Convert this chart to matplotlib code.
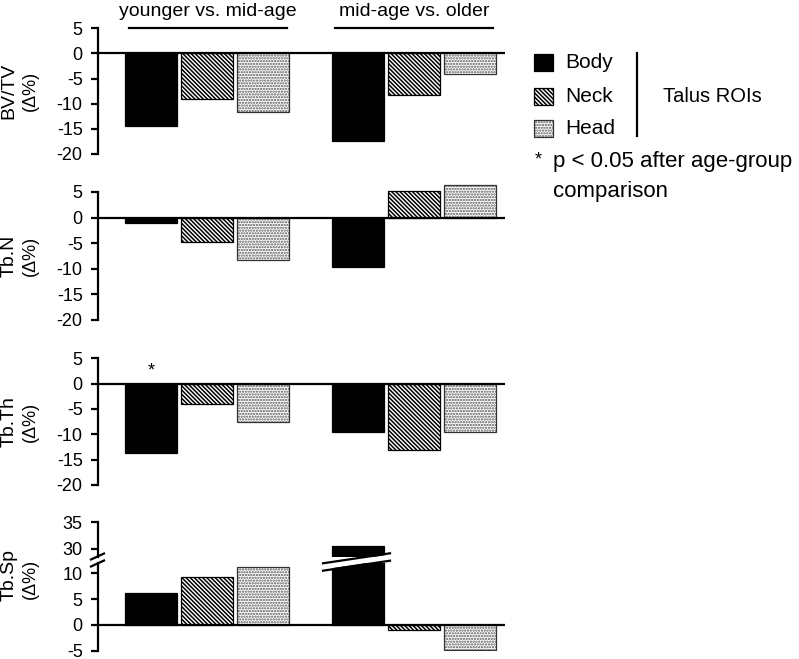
import matplotlib
matplotlib.use("Agg")
import matplotlib.pyplot as plt
from matplotlib.patches import Rectangle, Polygon
import numpy as np

plt.rcParams["font.family"] = ["Liberation Sans", "DejaVu Sans"]
plt.rcParams["hatch.linewidth"] = 1.1

# values (percent change)
rois = ["Body", "Neck", "Head"]
groups = ["younger vs. mid-age", "mid-age vs. older"]

bvtv_young_mid = [-14.4, -9.0, -11.7]
bvtv_mid_old = [-17.5, -8.2, -4.0]
tbn_young_mid = [-1.0, -4.8, -8.3]
tbn_mid_old = [-9.7, 5.2, 6.3]
tbth_young_mid = [-13.7, -4.1, -7.6]
tbth_mid_old = [-9.6, -13.0, -9.5]
tbsp_young_mid = [6.2, 9.3, 11.2]
tbsp_mid_old = [30.6, -1.0, -4.9]

W, H = 799, 659
fig = plt.figure(figsize=(W / 100, H / 100), dpi=100)

fc = ["black", "white", "white"]
ec = ["black", "black", "#333333"]
hc = ["black", "black", "#555555"]   # hatch colour
hatches = [None, "\\" * 8, "." * 6]

# bar positions: 3 bars per group, gap between groups
pos = np.concatenate([np.arange(3), np.arange(3) + 3.7])
width = 0.93
XL = (-0.946, 6.32)


def add_ax(top, bottom):
    return fig.add_axes([98 / W, 1 - bottom / H, (505 - 98) / W, (bottom - top) / H])


def style(ax, ylim, ticks):
    ax.set_xlim(*XL)
    ax.set_ylim(*ylim)
    for s in ["top", "right", "bottom"]:
        ax.spines[s].set_visible(False)
    ax.spines["left"].set_linewidth(1.6)
    ax.set_xticks([])
    ax.set_yticks(ticks)
    ax.set_yticklabels([str(t) for t in ticks])
    ax.tick_params(axis="y", length=5, width=1.6, pad=6, labelsize=13)
    ax.patch.set_alpha(0)


def draw_bars(ax, a, b, clip=False):
    vals = list(a) + list(b)
    for i, v in enumerate(vals):
        k = i % 3
        # fill + hatch, then outline on top
        ax.bar(pos[i], v, width=width, color=fc[k], edgecolor=hc[k],
               hatch=hatches[k], linewidth=0, zorder=2, clip_on=clip)
        ax.bar(pos[i], v, width=width, fill=False, edgecolor=ec[k],
               linewidth=0.9, zorder=2, clip_on=clip)
    ax.axhline(0, color="black", lw=1.6, zorder=3)


panels = [
    ("BV/TV", bvtv_young_mid, bvtv_mid_old, 28.3, 154),
    ("Tb.N", tbn_young_mid, tbn_mid_old, 192, 320),
    ("Tb.Th", tbth_young_mid, tbth_mid_old, 358.3, 485),
]
for name, a, b, top, bot in panels:
    ax = add_ax(top, bot)
    draw_bars(ax, a, b)
    style(ax, (-20, 5), [5, 0, -5, -10, -15, -20])
    fig.text(9 / W, 1 - (top + bot) / 2 / H, name, rotation=90,
             ha="center", va="center", fontsize=14)
    fig.text(30 / W, 1 - (top + bot) / 2 / H, "(\u0394%)", rotation=90,
             ha="center", va="center", fontsize=13)
    if name == "Tb.Th":
        ax.text(pos[0], 0.8, "*", ha="center", va="bottom", fontsize=13)

# Tb.Sp with broken axis
ax_hi = add_ax(522.3, 557)
draw_bars(ax_hi, tbsp_young_mid, tbsp_mid_old, clip=True)
style(ax_hi, (28.5, 35), [30, 35])
ax_lo = add_ax(563, 650.7)
draw_bars(ax_lo, tbsp_young_mid, tbsp_mid_old, clip=True)
style(ax_lo, (-5, 12), [10, 5, 0, -5])
fig.text(9 / W, 1 - 575 / H, "Tb.Sp", rotation=90, ha="center", va="center", fontsize=14)
fig.text(30 / W, 1 - 579 / H, "(\u0394%)", rotation=90, ha="center", va="center", fontsize=13)

# overlay in pixel coordinates for annotations
ov = fig.add_axes([0, 0, 1, 1])
ov.set_xlim(0, W)
ov.set_ylim(H, 0)
ov.axis("off")
ov.patch.set_alpha(0)

# group headers
for g, (x0, x1) in zip(groups, [(129, 287), (335, 493)]):
    ov.plot([x0, x1], [28, 28], color="black", lw=1.6)
    ov.text((x0 + x1) / 2, 11, g, ha="center", va="center", fontsize=14)

# break marks on the axis
for y in [556.5, 563.5]:
    ov.plot([91, 104], [y + 3, y - 3], color="black", lw=1.6)
# break slash across the tall bar
ov.add_patch(Polygon([[323, 564.5], [390, 554.5], [390, 559.5], [323, 569.5]],
                     closed=True, facecolor="white", edgecolor="none", zorder=5))
ov.plot([323, 390], [563.3, 553.3], color="black", lw=1.6, zorder=6)
ov.plot([323, 390], [570.7, 560.7], color="black", lw=1.6, zorder=6)

# legend
for k, (name, yc) in enumerate(zip(rois, [62, 96, 128])):
    ov.add_patch(Rectangle((534, yc - 8.5), 19, 17, facecolor=fc[k], edgecolor=hc[k],
                           hatch=hatches[k], linewidth=0))
    ov.add_patch(Rectangle((534, yc - 8.5), 19, 17, fill=False, edgecolor=ec[k],
                           linewidth=0.9))
    ov.text(565, yc, name, ha="left", va="center", fontsize=15)
ov.plot([637, 637], [53, 136], color="black", lw=1.6)
ov.text(663, 96, "Talus ROIs", ha="left", va="center", fontsize=14.5)
ov.text(538, 160, "*", ha="center", va="center", fontsize=13)
ov.text(553, 166.5, "p < 0.05 after age-group", ha="left", va="baseline", fontsize=16)
ov.text(553, 196.5, "comparison", ha="left", va="baseline", fontsize=16)

fig.savefig("out.png", dpi=100)
